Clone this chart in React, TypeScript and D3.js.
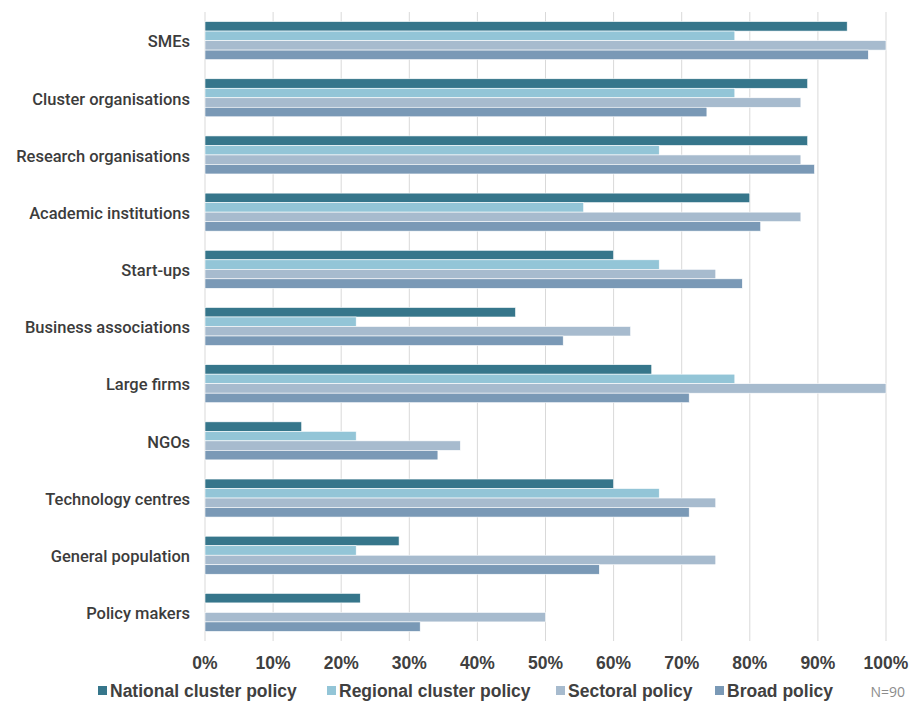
import React, { useEffect, useRef } from "react";
import * as d3 from "d3";

const categories = [
  "SMEs",
  "Cluster organisations",
  "Research organisations",
  "Academic institutions",
  "Start-ups",
  "Business associations",
  "Large firms",
  "NGOs",
  "Technology centres",
  "General population",
  "Policy makers",
];

const seriesNames = [
  "National cluster policy",
  "Regional cluster policy",
  "Sectoral policy",
  "Broad policy",
];

const nationalCluster = [94.3, 88.5, 88.5, 80.0, 60.0, 45.6, 65.6, 14.2, 60.0, 28.5, 22.8];
const regionalCluster = [77.8, 77.8, 66.7, 55.6, 66.7, 22.2, 77.8, 22.2, 66.7, 22.2, 0];
const sectoral = [100, 87.5, 87.5, 87.5, 75.0, 62.5, 100, 37.5, 75.0, 75.0, 50.0];
const broad = [97.4, 73.7, 89.5, 81.6, 78.9, 52.6, 71.1, 34.2, 71.1, 57.9, 31.6];

const tickValues = [0, 10, 20, 30, 40, 50, 60, 70, 80, 90, 100];
const seriesColors = ["#36768b", "#93c5d7", "#a7bbce", "#7a99b6"];
const sampleNote = "N=90";

export default function App() {
  const ref = useRef<SVGSVGElement | null>(null);

  useEffect(() => {
    const width = 917;
    const height = 709;
    const margin = { top: 12, right: 31, bottom: 68, left: 205 };
    const svg = d3.select(ref.current);
    svg.selectAll("*").remove();

    const values = [nationalCluster, regionalCluster, sectoral, broad];
    const narrow = "'Liberation Sans Narrow', 'Liberation Sans', sans-serif";

    const x = d3
      .scaleLinear()
      .domain([0, 100])
      .range([margin.left, width - margin.right]);

    const y = d3
      .scaleBand<string>()
      .domain(categories)
      .range([margin.top, height - margin.bottom])
      .paddingInner(0.335)
      .paddingOuter(0.1675);

    const ySub = d3
      .scaleBand<string>()
      .domain(seriesNames)
      .range([0, y.bandwidth()]);

    // vertical gridlines
    svg
      .append("g")
      .selectAll("line")
      .data(tickValues)
      .join("line")
      .attr("x1", (d) => x(d))
      .attr("x2", (d) => x(d))
      .attr("y1", margin.top)
      .attr("y2", height - margin.bottom)
      .attr("stroke", "#d9d9d9")
      .attr("stroke-width", 1);

    // bars
    const groups = svg
      .append("g")
      .selectAll("g")
      .data(categories)
      .join("g")
      .attr("transform", (c) => `translate(0,${y(c)})`);

    groups
      .selectAll("rect")
      .data((c) =>
        seriesNames.map((s, k) => ({ s, k, v: values[k][categories.indexOf(c)] }))
      )
      .join("rect")
      .attr("x", x(0))
      .attr("y", (d) => ySub(d.s)!)
      .attr("width", (d) => Math.max(0, x(d.v) - x(0)))
      .attr("height", ySub.bandwidth())
      .attr("fill", (d) => seriesColors[d.k])
      .attr("stroke", "#ffffff")
      .attr("stroke-width", 0.6);

    // category labels
    svg
      .append("g")
      .selectAll("text")
      .data(categories)
      .join("text")
      .attr("x", margin.left - 15)
      .attr("y", (c) => y(c)! + y.bandwidth() / 2 + 1)
      .attr("dy", "0.35em")
      .attr("text-anchor", "end")
      .attr("font-family", "Roboto, 'Liberation Sans', sans-serif")
      .attr("font-weight", 500)
      .attr("font-size", 16.5)
      .attr("fill", "#3c3c3c")
      .text((c) => c);

    // x tick labels
    svg
      .append("g")
      .selectAll("text")
      .data(tickValues)
      .join("text")
      .attr("x", (d) => x(d))
      .attr("y", height - margin.bottom + 28)
      .attr("text-anchor", "middle")
      .attr("font-family", narrow)
      .attr("font-weight", "bold")
      .attr("font-size", 17.5)
      .attr("fill", "#404040")
      .text((d) => `${d}%`);

    // legend
    const legendX = [98, 327, 556, 715];
    const legendY = height - 12;
    const legend = svg
      .append("g")
      .selectAll("g")
      .data(seriesNames)
      .join("g")
      .attr("transform", (s, i) => `translate(${legendX[i]},${legendY})`);

    legend
      .append("rect")
      .attr("x", 0)
      .attr("y", -11)
      .attr("width", 9)
      .attr("height", 9)
      .attr("fill", (s, i) => seriesColors[i]);

    legend
      .append("text")
      .attr("x", 12)
      .attr("y", 0)
      .attr("font-family", narrow)
      .attr("font-weight", "bold")
      .attr("font-size", 17.5)
      .attr("fill", "#404040")
      .text((s) => s);

    svg
      .append("text")
      .attr("x", width - 12)
      .attr("y", legendY)
      .attr("text-anchor", "end")
      .attr("font-family", "'Open Sans', sans-serif")
      .attr("font-size", 14)
      .attr("fill", "#8c8c8c")
      .text(sampleNote);
  }, []);

  return (
    <svg
      ref={ref}
      width={917}
      height={709}
      style={{ position: "absolute", left: 0, top: 0, background: "#ffffff" }}
    />
  );
}
